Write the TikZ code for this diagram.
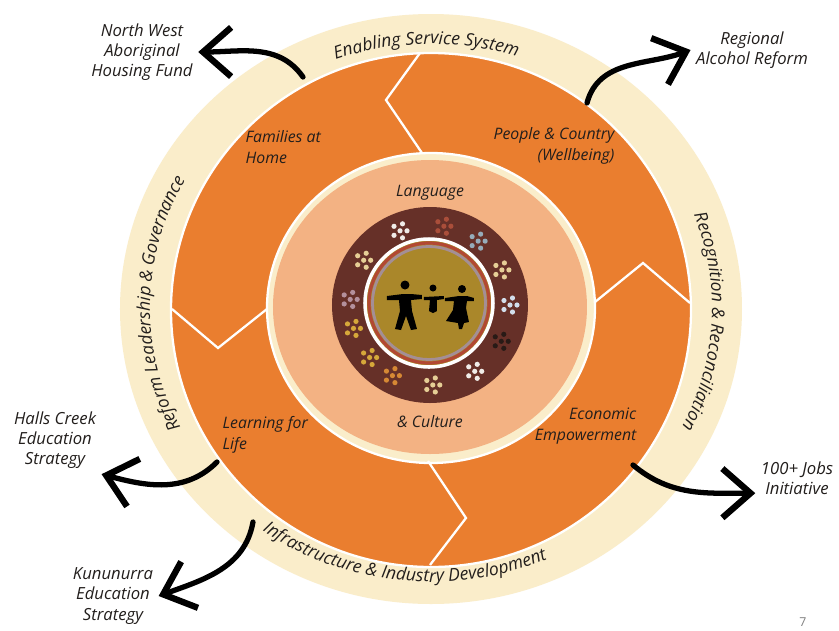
\documentclass[tikz,border=0pt]{standalone}
\usepackage{fontspec}
\setmainfont{Open Sans}
\usetikzlibrary{arrows.meta,decorations.text}
\definecolor{ringcream}{RGB}{250,237,202}
\definecolor{sector}{RGB}{234,126,47}
\definecolor{core}{RGB}{243,178,131}
\definecolor{earth}{RGB}{102,48,40}
\definecolor{ochre}{RGB}{170,135,42}
\definecolor{ochrered}{RGB}{178,72,52}
\definecolor{mauve}{RGB}{164,142,150}
\definecolor{ink}{RGB}{34,30,28}
\definecolor{dotwhite}{RGB}{240,236,232}
\definecolor{dotred}{RGB}{170,78,58}
\definecolor{dotblue}{RGB}{150,172,186}
\definecolor{dotpale}{RGB}{230,206,150}
\definecolor{dotsky}{RGB}{210,222,235}
\definecolor{dotdark}{RGB}{40,26,22}
\definecolor{dotorange}{RGB}{214,136,52}
\definecolor{dotyellow}{RGB}{214,168,58}
\definecolor{dotmauve}{RGB}{180,144,156}
\newcommand{\ringfont}{\itshape}

\begin{document}
\begin{tikzpicture}[x=0.02cm,y=0.02cm,
   font=\fontsize{9}{12}\selectfont\itshape,
   sectortext/.style={text=ink,inner sep=3pt,align=left},
   outer/.style={text=ink,align=center,inner sep=3pt,font=\fontsize{9.5}{11.5}\selectfont\itshape},
   divider/.style={draw=white,line width=1.3pt},
   brush/.style={-{Straight Barb[length=16pt,width=28pt,line width=3.6pt]},line width=3pt,line cap=round},
   ringtext/.style={decorate,decoration={text along path,text color=ink,text align=center,text={#1}}}]
\useasboundingbox (-431,-322) rectangle (408,308);
\fill[white] (-431,-322) rectangle (408,308);
\fill[ringcream] (0,-1) ellipse[x radius=311,y radius=295];
\filldraw[fill=sector,draw=white,line width=1.3pt] (0,-2) ellipse[x radius=260,y radius=257];
\filldraw[fill=ringcream,draw=white,line width=1.3pt] (0,0) ellipse[x radius=164,y radius=155];
\fill[core] (-1,1) ellipse[x radius=157,y radius=147];
\fill[earth] (-1,3) circle (98);
\draw[divider] (-11,255) -- (-45,208) -- (-9,155);
\draw[divider] (-259,-1) -- (-213,-40) -- (-164,-1);
\draw[divider] (164,6) -- (212,45) -- (259,5);
\draw[divider] (-3,-153) -- (35,-210) -- (-1,-257);
\fill[ochre] (-2,5) circle (64);
\draw[white,line width=2pt] (-2,5) circle (64);
\draw[ochrered,line width=1.8pt] (-2,5) circle (60);
\draw[mauve,line width=1.6pt] (-2,5) circle (56.5);
\foreach \a/\col in {112/dotwhite,80/dotred,53/dotblue,26/dotpale,0/dotsky,-27/dotdark,-56/dotwhite,-88/dotpale,-118/dotorange,-139/dotyellow,-163/dotyellow,176/dotmauve,146/dotpale}
  \foreach \dx/\dy in {0/0,7/0,2.5/7,-6/4.5,-6/-4.5,2.5/-7}
    \fill[\col,shift={(\a:80)}] (-1+\dx,3+\dy) circle (2.6);
\fill (-26,23) circle (4.5);
\fill (-44,12) -- (-28,14) -- (-20,14) -- (-9,13) -- (-9,9) -- (-20,8) -- (-19,-3) -- (-14,-21) -- (-20,-22) -- (-25,-8) -- (-30,-22) -- (-36,-21) -- (-31,-3) -- (-32,8) -- (-44,8) -- cycle;
\fill (2,20) circle (3.5);
\fill (-7,11) -- (13,12) -- (13,9) -- (6,8) -- (6,-3) -- (2,-5) -- (-2,-3) -- (-1,8) -- (-7,8) -- cycle;
\fill (31,19) circle (4);
\fill (14,10) -- (28,12) -- (36,12) -- (43,10) -- (43,7) -- (36,7) -- (35,0) -- (38,-14) -- (33,-15) -- (31,-21) -- (28,-21) -- (27,-15) -- (15,-13) -- (22,-2) -- (23,7) -- (14,7) -- cycle;
\path[ringtext={|\ringfont|Enabling Service System}] (120:281 and 264) arc[start angle=120,end angle=62,x radius=281,y radius=264];
\path[ringtext={|\ringfont|Recognition {\&} Reconciliation}] (37:281 and 264) arc[start angle=37,end angle=-43,x radius=281,y radius=264];
\path[ringtext={|\ringfont|Reform Leadership {\&} Governance}] (219:281 and 264) arc[start angle=219,end angle=139,x radius=281,y radius=264];
\path[ringtext={|\ringfont|Infrastructure {\&} Industry Development}] (225:290 and 274) arc[start angle=225,end angle=303,x radius=290,y radius=274];
\node[sectortext,anchor=west] (families) at (-191,161) {Families at\\Home};
\node[sectortext,anchor=east,align=right] (people) at (189,162) {People \& Country\\(Wellbeing)};
\node[sectortext,anchor=west] (learning) at (-214,-127) {Learning for\\Life};
\node[sectortext,anchor=east,align=right] (economic) at (211,-118) {Economic\\Empowerment};
\node[sectortext] (language) at (-1,115) {Language};
\node[sectortext] (culture) at (-1,-114) {\& Culture};
\node[outer] (nwahf) at (-289,256) {North West\\Aboriginal\\Housing Fund};
\node[outer] (rar) at (321,258) {Regional\\Alcohol Reform};
\node[outer] (hces) at (-376,-132) {Halls Creek\\Education\\Strategy};
\node[outer] (kes) at (-318,-288) {Kununurra\\Education\\Strategy};
\node[outer] (jobs) at (366,-170) {100+ Jobs\\Initiative};
\node[text=gray,font=\fontsize{7}{8}\selectfont] (page) at (372,-314) {7};
\coordinate (nwfrom) at (-128,231);
\coordinate (rarfrom) at (156,205);
\coordinate (hcesfrom) at (-214,-154);
\coordinate (kesfrom) at (-178,-214);
\coordinate (jobsfrom) at (202,-157);
\draw[brush] (nwfrom) to[out=125,in=0] (nwahf.east);
\draw[brush] (rarfrom) to[out=75,in=200] (rar.west);
\draw[brush] (hcesfrom) to[out=225,in=-15] (hces.south east);
\draw[brush] (kesfrom) to[out=260,in=20] (kes.east);
\draw[brush] (jobsfrom) to[out=-40,in=180] (jobs.200);
\end{tikzpicture}
\end{document}
